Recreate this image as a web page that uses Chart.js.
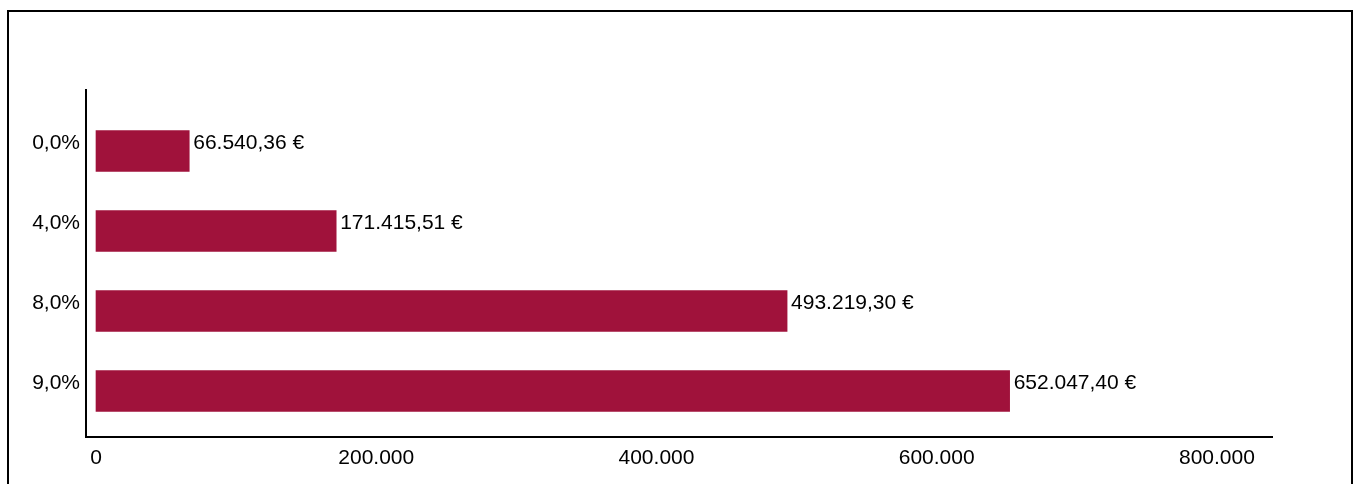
<!DOCTYPE html>
<html>
<head>
<meta charset="utf-8">
<script src="https://cdn.jsdelivr.net/npm/chart.js@4/dist/chart.umd.min.js"></script>
<style>
  html, body { margin: 0; padding: 0; background: #fff; overflow: hidden; }
  #frame {
    position: absolute; left: 7px; top: 10px; width: 1346px; height: 500px;
    border: 2px solid #000; box-sizing: border-box;
  }
  #wrap { position: absolute; left: 0; top: 0; width: 1356px; height: 484px; }
</style>
</head>
<body>
<div id="frame"></div>
<div id="wrap"><canvas id="rateChart"></canvas></div>
<script>
// Daten
const categories = ['0,0%', '4,0%', '8,0%', '9,0%'];
const values = [66540.36, 171415.51, 493219.30, 652047.40];
const xTicks = [0, 200000, 400000, 600000, 800000];

const barColor = '#A0123B';
const fontFamily = '"Liberation Sans", Arial, sans-serif';

// Zahlen im deutschen Format
function formatDe(num, decimals) {
    const parts = num.toFixed(decimals).split('.');
    const intPart = parts[0].replace(/\B(?=(\d{3})+(?!\d))/g, '.');
    return parts.length > 1 ? intPart + ',' + parts[1] : intPart;
}

// Beschriftung am Balkenende
const valueLabels = {
    id: 'valueLabels',
    afterDatasetsDraw(chart) {
        const ctx = chart.ctx;
        const meta = chart.getDatasetMeta(0);
        ctx.save();
        ctx.font = '21px ' + fontFamily;
        ctx.fillStyle = '#000';
        ctx.textAlign = 'left';
        ctx.textBaseline = 'middle';
        meta.data.forEach(function(bar, i) {
            ctx.fillText(formatDe(values[i], 2) + ' €', bar.x + 4, bar.y - 8);
        });
        ctx.restore();
    }
};

document.addEventListener('DOMContentLoaded', function() {
    const ctx = document.getElementById('rateChart').getContext('2d');
    new Chart(ctx, {
        type: 'bar',
        data: {
            datasets: [{
                data: values.map(function(v, i) { return { x: v, y: i }; }),
                backgroundColor: barColor,
                borderWidth: 0,
                barThickness: 41
            }]
        },
        options: {
            indexAxis: 'y',
            responsive: true,
            maintainAspectRatio: false,
            animation: false,
            layout: { padding: { left: 0, top: 90, right: 84, bottom: 0 } },
            plugins: { legend: { display: false }, tooltip: { enabled: false } },
            scales: {
                x: {
                    type: 'linear',
                    min: -7140,
                    max: 839300,
                    afterBuildTicks: function(scale) {
                        scale.ticks = xTicks.map(function(v) { return { value: v }; });
                    },
                    afterFit: function(scale) { scale.height = 47; },
                    grid: { display: false, drawTicks: false },
                    border: { display: true, color: '#000', width: 2 },
                    ticks: {
                        color: '#000',
                        padding: 9,
                        maxRotation: 0,
                        font: { family: fontFamily, size: 21 },
                        callback: function(v) { return formatDe(v, 0); }
                    }
                },
                y: {
                    type: 'linear',
                    offset: false,
                    reverse: true,
                    min: -0.7625,
                    max: 3.575,
                    afterBuildTicks: function(scale) {
                        scale.ticks = categories.map(function(c, i) { return { value: i }; });
                    },
                    afterFit: function(scale) { scale.width = 86; },
                    grid: { display: false, drawTicks: false, offset: false },
                    border: { display: true, color: '#000', width: 2 },
                    ticks: {
                        color: '#000',
                        padding: 6,
                        labelOffset: -8,
                        font: { family: fontFamily, size: 21 },
                        callback: function(v) { return categories[v]; }
                    }
                }
            }
        },
        plugins: [valueLabels]
    });
});
</script>
</body>
</html>
